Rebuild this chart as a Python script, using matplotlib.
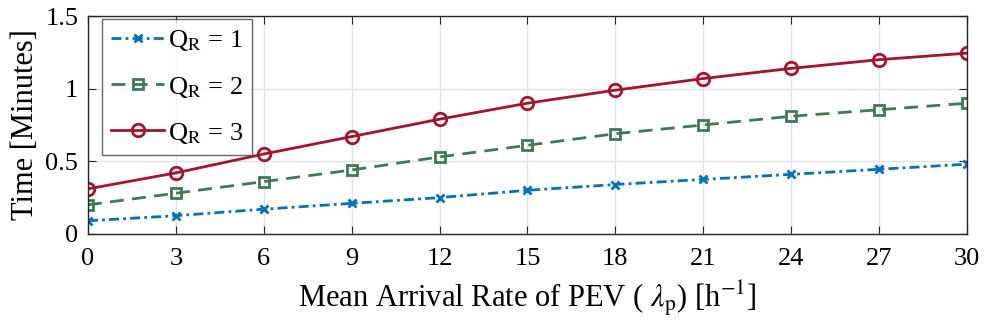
import matplotlib
matplotlib.use("Agg")
import matplotlib.pyplot as plt

plt.rcParams['font.family'] = ['Liberation Serif', 'DejaVu Serif']
plt.rcParams['mathtext.fontset'] = 'stix'

x = [0, 3, 6, 9, 12, 15, 18, 21, 24, 27, 30]
q1 = [0.09, 0.125, 0.17, 0.21, 0.25, 0.30, 0.34, 0.375, 0.41, 0.445, 0.48]
q2 = [0.20, 0.28, 0.36, 0.44, 0.53, 0.61, 0.69, 0.75, 0.81, 0.855, 0.90]
q3 = [0.31, 0.42, 0.55, 0.67, 0.79, 0.90, 0.99, 1.07, 1.14, 1.20, 1.245]
labels = [r'Q$_\mathrm{R}$ = 1', r'Q$_\mathrm{R}$ = 2', r'Q$_\mathrm{R}$ = 3']
xticks = [0, 3, 6, 9, 12, 15, 18, 21, 24, 27, 30]
yticks = [0, 0.5, 1, 1.5]
yticklabels = ['0', '0.5', '1', '1.5']

fig = plt.figure(figsize=(9.84, 3.36), dpi=100)
ax = fig.add_axes([0.0894, 0.304, 0.8933, 0.648])

ax.plot(x, q1, linestyle=(0, (3.6, 1.5, 1, 1.5)), color='#0072BD', marker='x', markersize=6, mew=2, lw=2, label=labels[0])
ax.plot(x, q2, linestyle=(0, (5, 3)), color='#3D7A57', marker='s', markersize=7, mfc='none', mew=2, lw=2, label=labels[1])
ax.plot(x, q3, linestyle='-', color='#A2142F', marker='o', markersize=9, mfc='none', mew=2, lw=2, label=labels[2])

ax.set_xlim(0, 30)
ax.set_ylim(0, 1.5)
ax.set_xticks(xticks)
ax.set_yticks(yticks)
ax.set_yticklabels(yticklabels)
ax.grid(True, color='#e3e3e3', lw=1)
ax.set_axisbelow(True)
ax.tick_params(direction='in', top=True, right=True, labelsize=19, length=6, color='#262626')
ax.tick_params(axis='x', pad=10)
ax.tick_params(axis='y', pad=7)
for s in ax.spines.values():
    s.set_color('#262626')
    s.set_linewidth(1)

ax.set_xlabel(r'Mean Arrival Rate of PEV ( $\lambda_\mathrm{p}$) [h$^{\mathrm{-1}}$]', fontsize=22, labelpad=6)
ax.set_ylabel('Time [Minutes]', fontsize=22, labelpad=4)

leg = ax.legend(loc='upper left', bbox_to_anchor=(0.016, 0.986), fontsize=19, frameon=True, fancybox=False,
                edgecolor='#404040', handlelength=2.0, handletextpad=0.15, borderpad=0.35,
                labelspacing=0.8, borderaxespad=0)
leg.get_frame().set_linewidth(1)

fig.savefig('out.png', dpi=100)
